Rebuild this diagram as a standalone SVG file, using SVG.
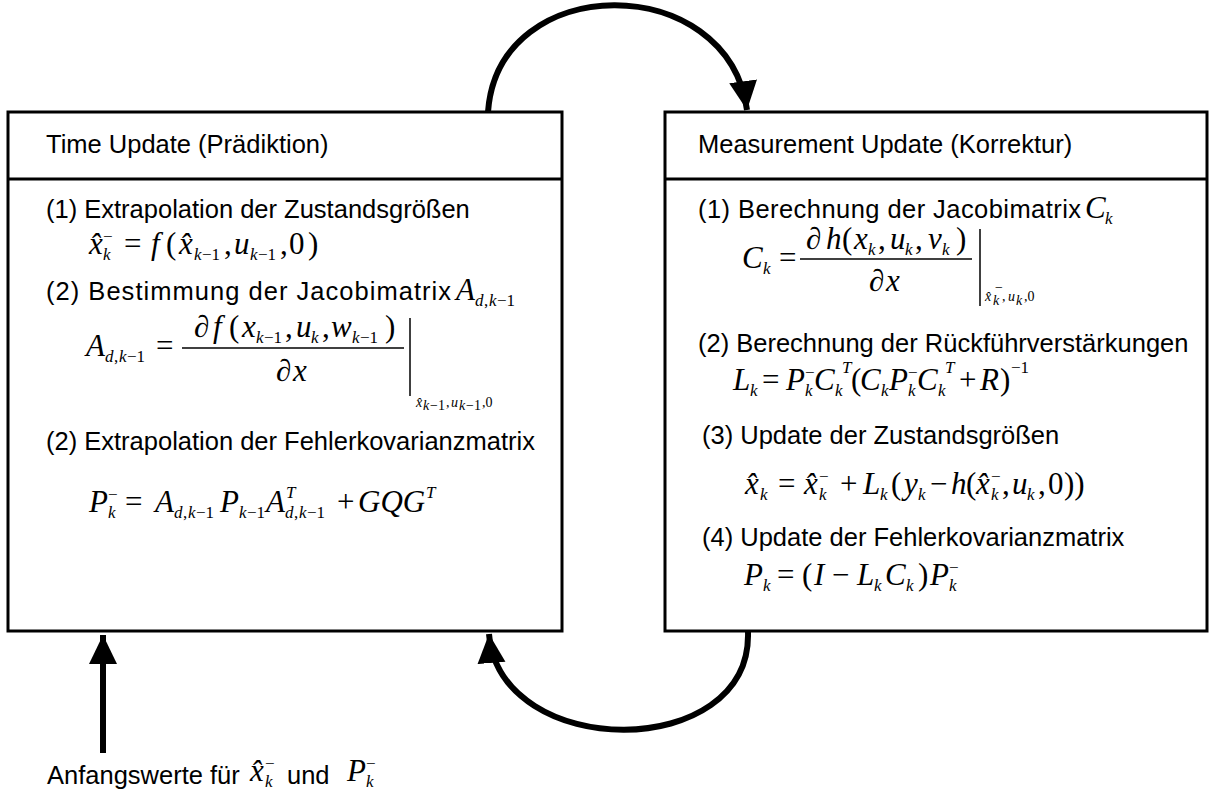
<svg xmlns="http://www.w3.org/2000/svg" width="1215" height="794" viewBox="0 0 1215 794">
<defs>
<style>
.box{fill:#fff;stroke:#000;stroke-width:3}
.div{stroke:#000;stroke-width:3}
.t{font-family:"Liberation Sans",Arial,sans-serif;font-size:25.5px;fill:#000}
.m{font-family:"Liberation Serif","Times New Roman",serif;font-size:31px;font-style:italic;fill:#000}
.r{font-style:normal}
.s{font-size:17px}
.ss{font-size:14px}
.conn{fill:none;stroke:#000;stroke-width:6}
.bar{stroke:#000;stroke-width:1.5}
</style>
<marker id="ah" markerUnits="userSpaceOnUse" markerWidth="32" markerHeight="32" refX="29" refY="14" orient="auto">
<path d="M0,0 L29,14 L0,28 z" fill="#000"/>
</marker>
</defs>

<g id="connectors">
<path class="conn" d="M488,112 C498,-30 728,-30 747,110" marker-end="url(#ah)"/>
<path class="conn" d="M748,632 C752,762 500,762 489,634" marker-end="url(#ah)"/>
<path class="conn" d="M103,753 L103,635" marker-end="url(#ah)"/>
</g>

<g id="time-update">
<rect class="box" x="8" y="112" width="554" height="519"/>
<line class="div" x1="8" y1="179" x2="562" y2="179"/>
<text class="t" x="46" y="153">Time Update (Prädiktion)</text>
<text class="t" x="46" y="218">(1) Extrapolation der Zustandsgrößen</text>
<text class="m"><tspan x="89" y="254">x̂</tspan><tspan class="s" x="103" y="260">k</tspan><tspan class="s r" x="103" y="242">−</tspan><tspan class="r" x="124" y="254">=</tspan><tspan x="151" y="254">f</tspan><tspan class="r" x="166" y="254">(</tspan><tspan x="179" y="254">x̂</tspan><tspan class="s" x="194" y="260">k</tspan><tspan class="s r" x="202" y="260">−1</tspan><tspan class="r" x="224" y="254">,</tspan><tspan x="234" y="254">u</tspan><tspan class="s" x="250" y="260">k</tspan><tspan class="s r" x="258" y="260">−1</tspan><tspan class="r" x="280" y="254">,</tspan><tspan class="r" x="289" y="254">0</tspan><tspan class="r" x="308" y="254">)</tspan></text>

<text class="t" x="46" y="300" textLength="405" lengthAdjust="spacing">(2) Bestimmung der Jacobimatrix</text>
<text class="m"><tspan x="456" y="300">A</tspan><tspan class="s" x="475" y="306">d</tspan><tspan class="s r" x="484" y="306">,</tspan><tspan class="s" x="489" y="306">k</tspan><tspan class="s r" x="497" y="306">−1</tspan></text>

<text class="m"><tspan x="86" y="356">A</tspan><tspan class="s" x="105" y="362">d</tspan><tspan class="s r" x="114" y="362">,</tspan><tspan class="s" x="119" y="362">k</tspan><tspan class="s r" x="127" y="362">−1</tspan><tspan class="r" x="156" y="356">=</tspan></text>
<text class="m"><tspan class="r" x="194" y="337">∂</tspan><tspan x="213" y="337">f</tspan><tspan class="r" x="229" y="337">(</tspan><tspan x="242" y="337">x</tspan><tspan class="s" x="256" y="343">k</tspan><tspan class="s r" x="264" y="343">−1</tspan><tspan class="r" x="285" y="337">,</tspan><tspan x="296" y="337">u</tspan><tspan class="s" x="311" y="343">k</tspan><tspan class="r" x="322" y="337">,</tspan><tspan x="331" y="337">w</tspan><tspan class="s" x="352" y="343">k</tspan><tspan class="s r" x="360" y="343">−1</tspan><tspan class="r" x="385" y="337">)</tspan></text>
<line class="bar" x1="182" y1="348" x2="404" y2="348"/>
<text class="m"><tspan class="r" x="276" y="381">∂</tspan><tspan x="293" y="381">x</tspan></text>
<line class="bar" x1="410" y1="318" x2="410" y2="396"/>
<text class="m ss"><tspan x="416" y="407">x̂</tspan><tspan x="423" y="410">k</tspan><tspan class="r" x="430" y="410">−1</tspan><tspan class="r" x="446" y="407">,</tspan><tspan x="451" y="407">u</tspan><tspan x="459" y="410">k</tspan><tspan class="r" x="466" y="410">−1</tspan><tspan class="r" x="482" y="407">,0</tspan></text>

<text class="t" x="46" y="450">(2) Extrapolation der Fehlerkovarianzmatrix</text>
<text class="m"><tspan x="89" y="512">P</tspan><tspan class="s" x="108" y="518">k</tspan><tspan class="s r" x="108" y="500">−</tspan><tspan class="r" x="125" y="512">=</tspan><tspan x="155" y="512">A</tspan><tspan class="s" x="174" y="518">d</tspan><tspan class="s r" x="183" y="518">,</tspan><tspan class="s" x="188" y="518">k</tspan><tspan class="s r" x="196" y="518">−1</tspan><tspan x="220" y="512">P</tspan><tspan class="s" x="239" y="518">k</tspan><tspan class="s r" x="247" y="518">−1</tspan><tspan x="266" y="512">A</tspan><tspan class="s" x="286" y="498">T</tspan><tspan class="s" x="285" y="518">d</tspan><tspan class="s r" x="294" y="518">,</tspan><tspan class="s" x="299" y="518">k</tspan><tspan class="s r" x="307" y="518">−1</tspan><tspan class="r" x="337" y="512">+</tspan><tspan x="358" y="512">GQG</tspan><tspan class="s" x="426" y="498">T</tspan></text>
</g>

<g id="measurement-update">
<rect class="box" x="665" y="112" width="542" height="519"/>
<line class="div" x1="665" y1="179" x2="1207" y2="179"/>
<text class="t" x="698" y="153">Measurement Update (Korrektur)</text>
<text class="t" x="698" y="218" textLength="383" lengthAdjust="spacing">(1) Berechnung der Jacobimatrix</text>
<text class="m"><tspan x="1085" y="218">C</tspan><tspan class="s" x="1105" y="224">k</tspan></text>

<text class="m"><tspan x="742" y="268">C</tspan><tspan class="s" x="763" y="274">k</tspan><tspan class="r" x="779" y="268">=</tspan></text>
<text class="m"><tspan class="r" x="806" y="249">∂</tspan><tspan x="826" y="249">h</tspan><tspan class="r" x="842" y="249">(</tspan><tspan x="854" y="249">x</tspan><tspan class="s" x="868" y="255">k</tspan><tspan class="r" x="878" y="249">,</tspan><tspan x="890" y="249">u</tspan><tspan class="s" x="905" y="255">k</tspan><tspan class="r" x="915" y="249">,</tspan><tspan x="928" y="249">v</tspan><tspan class="s" x="942" y="255">k</tspan><tspan class="r" x="956" y="249">)</tspan></text>
<line class="bar" x1="800" y1="259" x2="972" y2="259"/>
<text class="m"><tspan class="r" x="869" y="291">∂</tspan><tspan x="886" y="291">x</tspan></text>
<line class="bar" x1="980" y1="229" x2="980" y2="306"/>
<text class="m ss"><tspan x="985" y="301">x̂</tspan><tspan x="993" y="305">k</tspan><tspan class="r" x="995" y="292">−</tspan><tspan class="r" x="1002" y="301">,</tspan><tspan x="1008" y="301">u</tspan><tspan x="1016" y="305">k</tspan><tspan class="r" x="1024" y="301">,0</tspan></text>

<text class="t" x="698" y="352">(2) Berechnung der Rückführverstärkungen</text>
<text class="m"><tspan x="733" y="390">L</tspan><tspan class="s" x="750" y="396">k</tspan><tspan class="r" x="762" y="390">=</tspan><tspan x="786" y="390">P</tspan><tspan class="s" x="805" y="396">k</tspan><tspan class="s r" x="805" y="378">−</tspan><tspan x="814" y="390">C</tspan><tspan class="s" x="835" y="396">k</tspan><tspan class="s" x="842" y="373">T</tspan><tspan class="r" x="851" y="390">(</tspan><tspan x="860" y="390">C</tspan><tspan class="s" x="881" y="396">k</tspan><tspan x="889" y="390">P</tspan><tspan class="s" x="908" y="396">k</tspan><tspan class="s r" x="908" y="378">−</tspan><tspan x="917" y="390">C</tspan><tspan class="s" x="938" y="396">k</tspan><tspan class="s" x="945" y="373">T</tspan><tspan class="r" x="959" y="390">+</tspan><tspan x="980" y="390">R</tspan><tspan class="r" x="1000" y="390">)</tspan><tspan class="s r" x="1011" y="373">−1</tspan></text>

<text class="t" x="702" y="444">(3) Update der Zustandsgrößen</text>
<text class="m"><tspan x="745" y="494">x̂</tspan><tspan class="s" x="760" y="500">k</tspan><tspan class="r" x="778" y="494">=</tspan><tspan x="804" y="494">x̂</tspan><tspan class="s" x="819" y="500">k</tspan><tspan class="s r" x="819" y="482">−</tspan><tspan class="r" x="840" y="494">+</tspan><tspan x="863" y="494">L</tspan><tspan class="s" x="880" y="500">k</tspan><tspan class="r" x="891" y="494">(</tspan><tspan x="904" y="494">y</tspan><tspan class="s" x="918" y="500">k</tspan><tspan class="r" x="930" y="494">−</tspan><tspan x="951" y="494">h</tspan><tspan class="r" x="966" y="494">(</tspan><tspan x="976" y="494">x̂</tspan><tspan class="s" x="991" y="500">k</tspan><tspan class="s r" x="991" y="482">−</tspan><tspan class="r" x="1002" y="494">,</tspan><tspan x="1012" y="494">u</tspan><tspan class="s" x="1027" y="500">k</tspan><tspan class="r" x="1038" y="494">,</tspan><tspan class="r" x="1048" y="494">0</tspan><tspan class="r" x="1064" y="494">))</tspan></text>

<text class="t" x="702" y="546">(4) Update der Fehlerkovarianzmatrix</text>
<text class="m"><tspan x="744" y="585">P</tspan><tspan class="s" x="763" y="591">k</tspan><tspan class="r" x="777" y="585">=</tspan><tspan class="r" x="802" y="585">(</tspan><tspan x="814" y="585">I</tspan><tspan class="r" x="832" y="585">−</tspan><tspan x="857" y="585">L</tspan><tspan class="s" x="874" y="591">k</tspan><tspan x="885" y="585">C</tspan><tspan class="s" x="906" y="591">k</tspan><tspan class="r" x="918" y="585">)</tspan><tspan x="930" y="585">P</tspan><tspan class="s" x="949" y="591">k</tspan><tspan class="s r" x="949" y="573">−</tspan></text>
</g>

<g id="initial-values">
<text class="t" x="47" y="784">Anfangswerte für</text>
<text class="m"><tspan x="250" y="781">x̂</tspan><tspan class="s" x="265" y="787">k</tspan><tspan class="s r" x="265" y="769">−</tspan></text>
<text class="t" x="287" y="784">und</text>
<text class="m"><tspan x="347" y="781">P</tspan><tspan class="s" x="366" y="787">k</tspan><tspan class="s r" x="366" y="769">−</tspan></text>
</g>
</svg>
